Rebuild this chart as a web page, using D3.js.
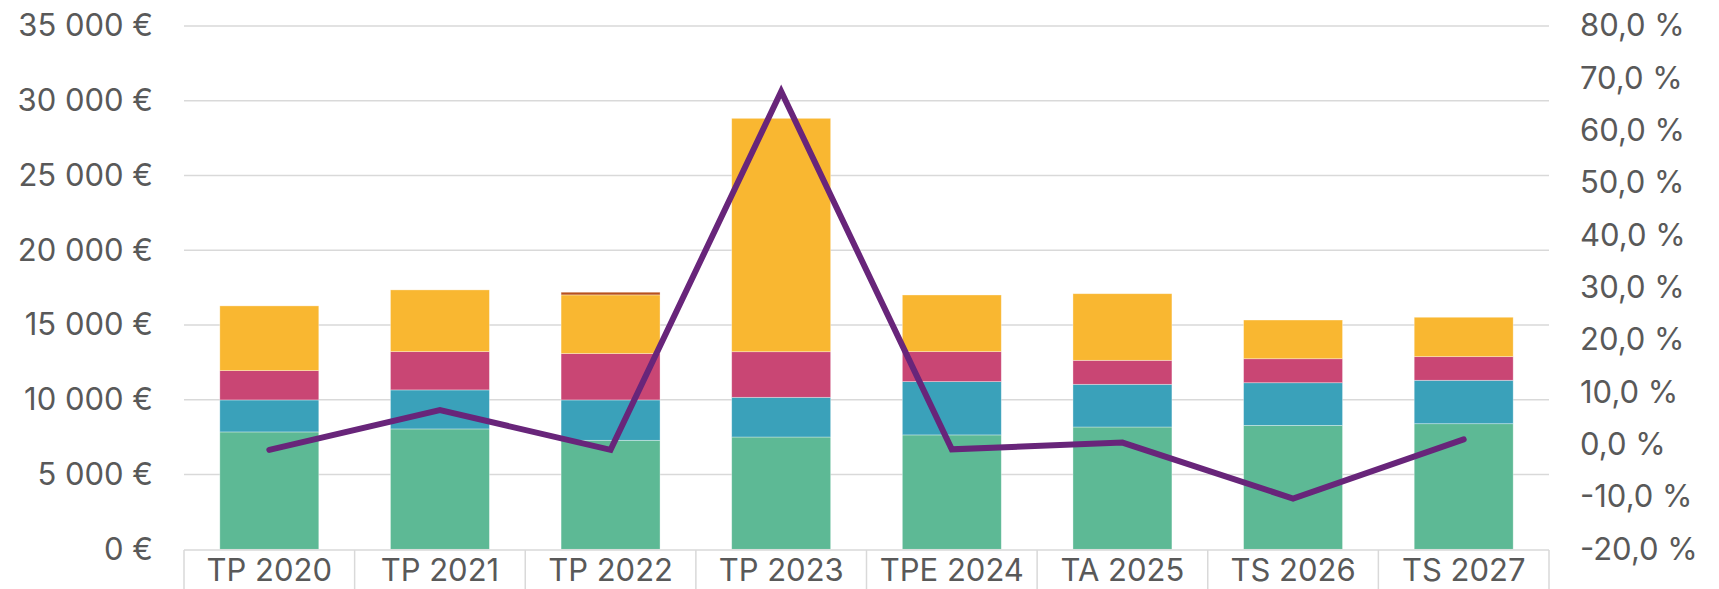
<!DOCTYPE html>
<html>
<head>
<meta charset="utf-8">
<script src="https://cdn.jsdelivr.net/npm/d3@7"></script>
<style>
  html, body { margin: 0; padding: 0; background: #fff; }
  svg { display: block; }
  text { font-family: Inter, "Noto Sans", sans-serif; fill: #595959; }
</style>
</head>
<body>
<svg id="chart" width="1719" height="589"></svg>
<script>
// ---- data ----
const categories = ["TP 2020", "TP 2021", "TP 2022", "TP 2023", "TPE 2024", "TA 2025", "TS 2026", "TS 2027"];
const seriesGreen  = [7850, 8050, 7290, 7510, 7650, 8180, 8290, 8400];
const seriesBlue   = [2140, 2610, 2700, 2655, 3565, 2855, 2850, 2905];
const seriesPink   = [1960, 2560, 3100, 3050, 2005, 1605, 1605, 1580];
const seriesYellow = [4330, 4130, 3925, 15610, 3790, 4455, 2590, 2635];
const seriesOrange = [0, 0, 180, 0, 0, 0, 0, 0];
const changePct    = [-1.0, 6.6, -1.0, 67.5, -0.9, 0.4, -10.3, 1.0];
const leftTicks  = [0, 5000, 10000, 15000, 20000, 25000, 30000, 35000];
const rightTicks = [-20, -10, 0, 10, 20, 30, 40, 50, 60, 70, 80];

const seriesList = [
  { key: "green",  values: seriesGreen,  color: "#5db995" },
  { key: "blue",   values: seriesBlue,   color: "#3aa1ba" },
  { key: "pink",   values: seriesPink,   color: "#c94674" },
  { key: "yellow", values: seriesYellow, color: "#f9b731" },
  { key: "orange", values: seriesOrange, color: "#b8511d" }
];

// ---- layout ----
const svg = d3.select("#chart");
const plotLeft = 184, plotRight = 1549, plotTop = 26, plotBottom = 549.3;

const x = d3.scaleBand().domain(categories).range([plotLeft, plotRight]).padding(0);
const barW = x.bandwidth() * 0.58;
const yL = d3.scaleLinear().domain([0, 35000]).range([plotBottom, plotTop]);
const yR = d3.scaleLinear().domain([-20, 80]).range([plotBottom, plotTop]);

// gridlines
svg.append("g").selectAll("line").data(leftTicks.filter(d => d > 0)).join("line")
  .attr("x1", plotLeft).attr("x2", plotRight)
  .attr("y1", d => yL(d)).attr("y2", d => yL(d))
  .attr("stroke", "#d9d9d9").attr("stroke-width", 1.5);

// stacked bars
const table = categories.map((c, i) => {
  const o = { cat: c };
  seriesList.forEach(s => o[s.key] = s.values[i]);
  return o;
});
const stack = d3.stack().keys(seriesList.map(s => s.key));
const stacked = stack(table);
const gBars = svg.append("g");
stacked.forEach((layer, li) => {
  gBars.append("g").attr("fill", seriesList[li].color)
    .selectAll("rect").data(layer.filter(d => d[1] - d[0] > 0)).join("rect")
    .attr("x", d => x(d.data.cat) + (x.bandwidth() - barW) / 2)
    .attr("width", barW)
    .attr("y", d => yL(d[1]))
    .attr("height", d => yL(d[0]) - yL(d[1]))
    .attr("stroke", "rgba(255,255,255,0.45)").attr("stroke-width", 0.75);
});

// x axis line + category separators
const axisY = 550;
svg.append("line").attr("x1", plotLeft).attr("x2", plotRight)
  .attr("y1", axisY).attr("y2", axisY).attr("stroke", "#d9d9d9").attr("stroke-width", 1.5);
const bounds = categories.map(c => x(c)).concat([plotRight]);
svg.append("g").selectAll("line").data(bounds).join("line")
  .attr("x1", d => d).attr("x2", d => d).attr("y1", axisY).attr("y2", 589)
  .attr("stroke", "#d9d9d9").attr("stroke-width", 1.5);

// x labels
svg.append("g").selectAll("text").data(categories).join("text")
  .attr("x", d => x(d) + x.bandwidth() / 2)
  .attr("y", 581)
  .attr("text-anchor", "middle")
  .attr("font-size", 31)
  .text(d => d);

// left axis
const fmtEuro = d => d3.format(",")(d).replace(/,/g, " ") + " €";
const axL = d3.axisLeft(yL).tickValues(leftTicks).tickFormat(fmtEuro).tickSize(0).tickPadding(0);
const gL = svg.append("g").attr("transform", "translate(153,0)").call(axL);
gL.select(".domain").remove();
gL.selectAll("text").attr("font-size", 31).attr("fill", "#595959").attr("font-family", "Inter, sans-serif");

// right axis
const fmtPct = d => d3.format(".1f")(d).replace(".", ",").replace("−", "-") + " %";
const axR = d3.axisRight(yR).tickValues(rightTicks).tickFormat(fmtPct).tickSize(0).tickPadding(0);
const gR = svg.append("g").attr("transform", "translate(1580,0)").call(axR);
gR.select(".domain").remove();
gR.selectAll("text").attr("font-size", 31).attr("fill", "#595959").attr("font-family", "Inter, sans-serif");

// line
const line = d3.line()
  .x((d, i) => x(categories[i]) + x.bandwidth() / 2)
  .y(d => yR(d));
svg.append("path").datum(changePct)
  .attr("d", line)
  .attr("fill", "none")
  .attr("stroke", "#68257a")
  .attr("stroke-width", 6)
  .attr("stroke-linejoin", "miter")
  .attr("stroke-linecap", "round");
</script>
</body>
</html>
